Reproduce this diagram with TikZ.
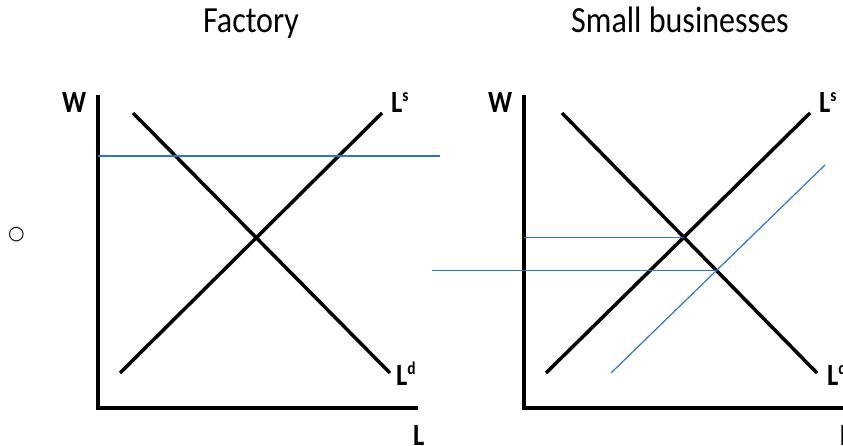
\documentclass[tikz,border=0pt]{standalone}
\usepackage{fontspec}
\setmainfont{Carlito}
\newfontfamily\symfont{DejaVu Sans}
\usetikzlibrary{intersections}
\definecolor{shiftblue}{RGB}{46,117,200}
\newcommand{\supr}[1]{\raisebox{11bp}{\fontsize{18}{20}\selectfont #1}}
\tikzset{
  axisline/.style={line width=3.5bp},
  curveline/.style={line width=3.5bp},
  guide/.style={shiftblue, line width=1.2bp},
  lbl/.style={font=\bfseries\fontsize{31}{33}\selectfont, inner sep=0pt, xscale=0.86, anchor=base west},
  ttl/.style={font=\fontsize{37}{40}\selectfont, inner sep=0pt, xscale=0.87, anchor=base}
}
\begin{document}
\begin{tikzpicture}[x=1bp,y=-1bp]
  \useasboundingbox (0,0) rectangle (843,446);
  \clip (0,0) rectangle (843,446);

  % Titulos
  \node[ttl] (tfac) at (251,33) {Factory};
  \node[ttl] (tsmall) at (680,33) {Small businesses};
  \node[font=\symfont\fontsize{19}{21}\selectfont, inner sep=0pt] (bul) at (16.5,234.5) {○};

  % Ejes fabrica
  \coordinate (vF) at (98,95);
  \coordinate (oF) at (98,408);
  \coordinate (hF) at (418,408);
  \draw[axisline] (vF) -- (oF) -- (hF);

  % Curvas fabrica
  \coordinate (sF1) at (120,373);
  \coordinate (sF2) at (382,113);
  \coordinate (dF1) at (133,113);
  \coordinate (dF2) at (390,373);
  \draw[curveline] (sF1) -- (sF2);
  \draw[curveline] (dF1) -- (dF2);
  \coordinate (gF1) at (98,156);
  \coordinate (gF2) at (440,156);
  \draw[guide] (gF1) -- (gF2);

  % Etiquetas fabrica
  \node[lbl] (wF) at (62,113) {W};
  \node[lbl] (lsF) at (391,113) {L\supr{s}};
  \node[lbl] (ldF) at (396,386) {L\supr{d}};
  \node[lbl] (lF) at (413,445) {L};

  % Ejes negocios
  \coordinate (vS) at (524,95);
  \coordinate (oS) at (524,408);
  \coordinate (hS) at (860,408);
  \draw[axisline] (vS) -- (oS) -- (hS);

  % Curvas negocios
  \coordinate (sS1) at (546,373);
  \coordinate (sS2) at (810,113);
  \coordinate (dS1) at (562,113);
  \coordinate (dS2) at (817,373);
  \coordinate (bS1) at (611,373);
  \coordinate (bS2) at (825,165);
  \draw[curveline, name path=supS] (sS1) -- (sS2);
  \draw[curveline, name path=demS] (dS1) -- (dS2);
  \draw[guide, name path=newS] (bS1) -- (bS2);
  \path[name intersections={of=supS and demS, by=eqA}];
  \path[name intersections={of=newS and demS, by=eqB}];
  \coordinate (gS) at (432,0);
  \draw[guide] (vS |- eqA) -- (eqA);
  \draw[guide] (gS |- eqB) -- (eqB);

  % Etiquetas negocios
  \node[lbl] (wS) at (488,113) {W};
  \node[lbl] (lsS) at (819,113) {L\supr{s}};
  \node[lbl] (ldS) at (827,386) {L\supr{d}};
  \node[lbl] (lS) at (840,445) {L};
\end{tikzpicture}
\end{document}
